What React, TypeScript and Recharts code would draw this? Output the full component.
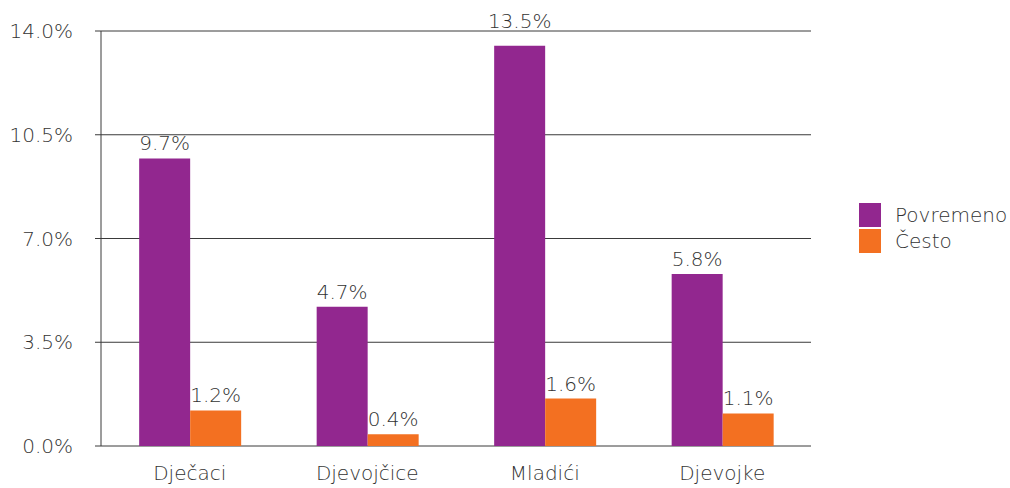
import React from "react";
import {
  BarChart,
  Bar,
  XAxis,
  YAxis,
  CartesianGrid,
  Legend,
  LabelList,
} from "recharts";

const groups: string[] = ["Dječaci", "Djevojčice", "Mladići", "Djevojke"];
const povremeno: number[] = [9.7, 4.7, 13.5, 5.8];
const cesto: number[] = [1.2, 0.4, 1.6, 1.1];
const yTicks: number[] = [0, 3.5, 7, 10.5, 14];
const edgeTicks: number[] = [0, 1, 2, 3, 4];
const yMax = 14;

const series = [
  { key: "povremeno", name: "Povremeno", color: "#92278F" },
  { key: "cesto", name: "Često", color: "#F37021" },
];

const data = groups.map((g, i) => ({
  group: g,
  povremeno: povremeno[i],
  cesto: cesto[i],
}));

const FONT = "'DejaVu Sans', sans-serif";
const TEXT = "#333333";
const LINE = "#3a3a3a";

const pct = (v: any) => Number(v).toFixed(1) + "%";

// value label above the bar; lifted clear of the top gridline when the bar nearly touches it
const TopLabel = (props: any) => {
  const { x, y, width, value } = props;
  const near = Number(value) / yMax > 0.9;
  return (
    <text
      x={Number(x) + Number(width) / 2}
      y={Number(y) - (near ? 18 : 8)}
      textAnchor="middle"
      fill={TEXT}
      fontSize={20}
    >
      {pct(value)}
    </text>
  );
};

const LegendBox = () => (
  <div style={{ fontFamily: FONT, fontWeight: 200, fontSize: 20, color: TEXT }}>
    {series.map((s) => (
      <div key={s.key} style={{ display: "flex", alignItems: "center", height: 26 }}>
        <div style={{ width: 22, height: 24, background: s.color, marginRight: 14 }} />
        <span>{s.name}</span>
      </div>
    ))}
  </div>
);

export default function App() {
  return (
    <div style={{ position: "absolute", left: 0, top: 0 }}>
      <BarChart
        width={1010}
        height={488}
        data={data}
        margin={{ top: 31, right: 199, bottom: 0, left: 8 }}
        barCategoryGap="21.5%"
        barGap={0}
        style={{ fontFamily: FONT, fontWeight: 200 }}
      >
        <CartesianGrid vertical={false} stroke={LINE} strokeOpacity={1} />
        <XAxis
          xAxisId="edge"
          type="number"
          domain={[0, 4]}
          ticks={edgeTicks}
          tick={false}
          tickLine={{ stroke: LINE }}
          tickSize={7}
          axisLine={false}
          height={0}
        />
        <XAxis
          dataKey="group"
          height={42}
          tickLine={false}
          axisLine={false}
          tickSize={0}
          tickMargin={20}
          tick={{ fill: TEXT, fontSize: 20 }}
        />
        <YAxis
          domain={[0, yMax]}
          ticks={yTicks}
          tickFormatter={pct}
          width={93}
          tickSize={6}
          tickMargin={22}
          tickLine={{ stroke: LINE }}
          axisLine={{ stroke: LINE }}
          tick={{ fill: TEXT, fontSize: 20 }}
        />
        <Legend
          layout="horizontal"
          verticalAlign="middle"
          content={() => <LegendBox />}
          wrapperStyle={{ left: 859, top: 202, width: 150 }}
        />
        {series.map((s) => (
          <Bar
            key={s.key}
            dataKey={s.key}
            name={s.name}
            fill={s.color}
            isAnimationActive={false}
          >
            <LabelList dataKey={s.key} content={TopLabel} />
          </Bar>
        ))}
      </BarChart>
    </div>
  );
}
